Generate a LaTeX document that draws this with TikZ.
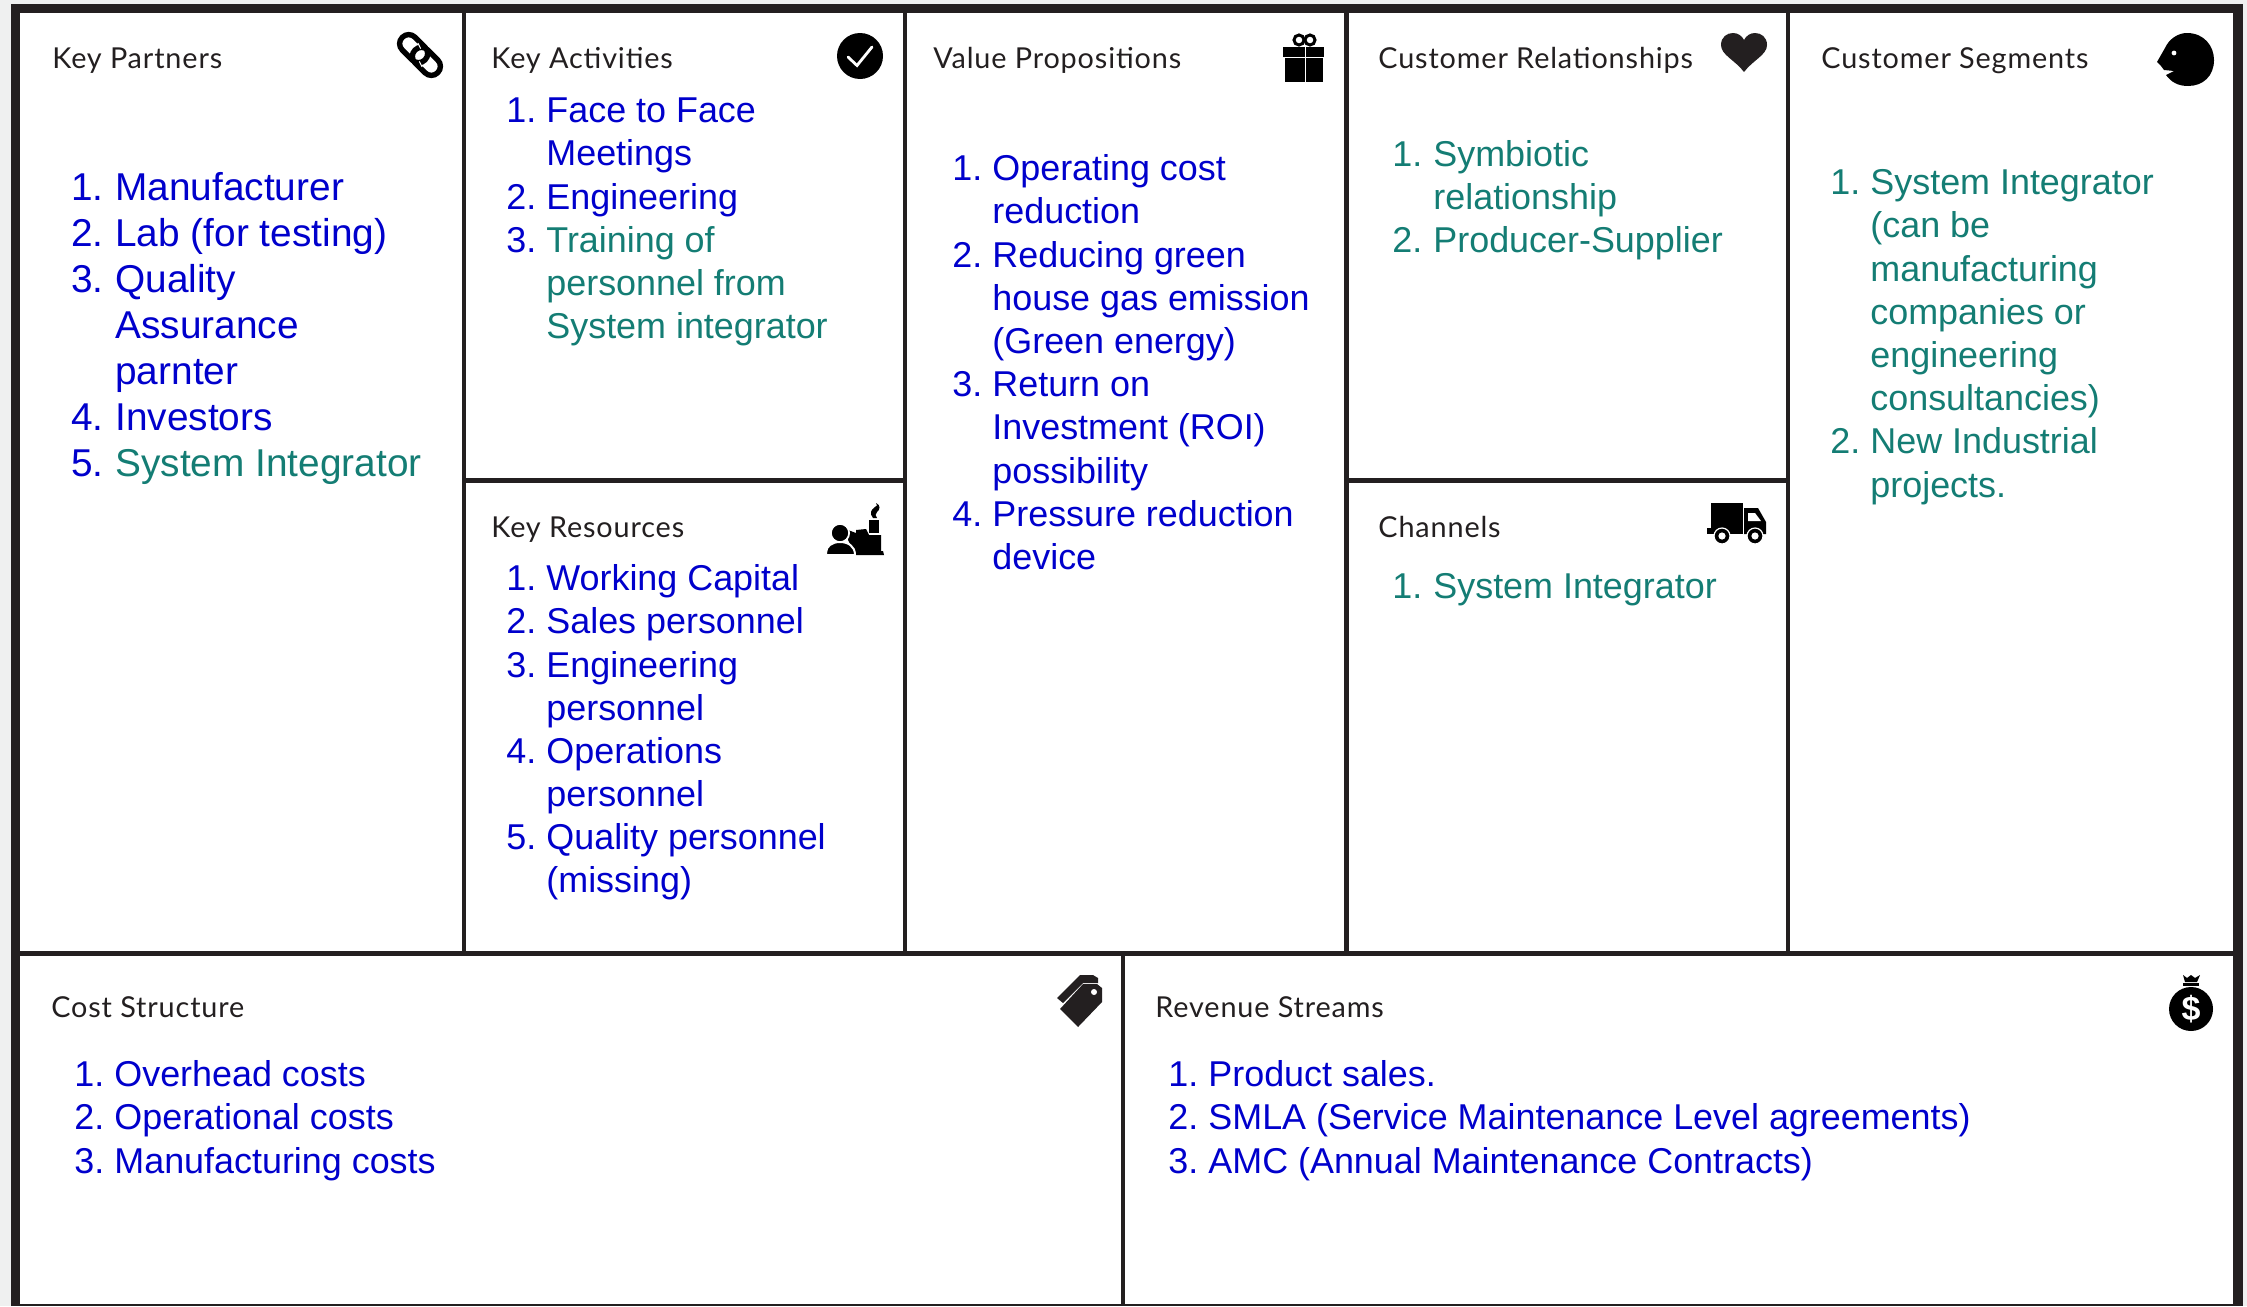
\documentclass[tikz,border=0pt]{standalone}
\usepackage{fontspec}
\setmainfont{Liberation Sans}
\newfontfamily\titlefont{Lato}[LetterSpace=3]
\definecolor{frameK}{HTML}{231F20}
\definecolor{blueT}{HTML}{0000CC}
\definecolor{greenT}{HTML}{147D74}
\definecolor{pageG}{HTML}{EFF0F0}
\tikzset{
  x=0.5pt,y=-0.5pt,
  rule/.style={fill=frameK,draw=none},
  ttl/.style={anchor=base west,inner sep=0,font=\titlefont\fontsize{14.4}{14.4}\selectfont,text=frameK},
  itm/.style={anchor=base west,inner sep=0,font=\fontsize{17.95}{17.95}\selectfont},
  itmb/.style={anchor=base west,inner sep=0,font=\fontsize{19.4}{19.4}\selectfont},
  blu/.style={text=blueT},
  grn/.style={text=greenT},
  ico/.style={fill=black,draw=none},
}
\begin{document}
\begin{tikzpicture}
\useasboundingbox (0,0) rectangle (2247,1306);
\fill[pageG] (0,0) rectangle (2247,1306);
\fill[white] (20,13) rectangle (2234,1306);
% frame
\fill[rule] (11,4) rectangle (2243,13);
\fill[rule] (11,4) rectangle (20,1306);
\fill[rule] (2233,4) rectangle (2243,1306);
\fill[rule] (462,13) rectangle (466,951);
\fill[rule] (903,13) rectangle (907,951);
\fill[rule] (1344,13) rectangle (1349,951);
\fill[rule] (1786,13) rectangle (1790,951);
\fill[rule] (466,478) rectangle (903,483);
\fill[rule] (1349,478) rectangle (1786,483);
\fill[rule] (20,951) rectangle (2233,956);
\fill[rule] (1121,956) rectangle (1125,1306);
\fill[rule] (20,1304) rectangle (2233,1306);
% titles
\node[ttl] (t1) at (52,68) {Key Partners};
\node[ttl] (t2) at (491,68) {Key Activities};
\node[ttl] (t3) at (933,68) {Value Propositions};
\node[ttl] (t4) at (1378,68) {Customer Relationships};
\node[ttl] (t5) at (1821,68) {Customer Segments};
\node[ttl] (t6) at (491,537) {Key Resources};
\node[ttl] (t7) at (1378,537) {Channels};
\node[ttl] (t8) at (51,1017) {Cost Structure};
\node[ttl] (t9) at (1155,1017) {Revenue Streams};
% Key partners
\node[itmb,blu] (kn1) at (71,200) {1.};
\node[itmb,blu] (kn2) at (71,246) {2.};
\node[itmb,blu] (kn3) at (71,292) {3.};
\node[itmb,blu] (kn4) at (71,430) {4.};
\node[itmb,blu] (kn5) at (71,476) {5.};
\node[itmb,blu] (kpa) at (115,200) {Manufacturer};
\node[itmb,blu] (kpb) at (115,246) {Lab (for testing)};
\node[itmb,blu] (kpc) at (115,292) {Quality};
\node[itmb,blu] (kpd) at (115,338) {Assurance};
\node[itmb,blu] (kpe) at (115,384) {parnter};
\node[itmb,blu] (kpf) at (115,430) {Investors};
\node[itmb,grn] (kpg) at (115,476) {System Integrator};
% Key activities
\node[itm,blu] (a1) at (506,122) {1.};
\node[itm,blu] (a1a) at (546,122) {Face to Face};
\node[itm,blu] (a1b) at (546,165) {Meetings};
\node[itm,blu] (a2) at (506,209) {2.};
\node[itm,blu] (a2a) at (546,209) {Engineering};
\node[itm,blu] (a3) at (506,252) {3.};
\node[itm,grn] (a3a) at (546,252) {Training of};
\node[itm,grn] (a3b) at (546,295) {personnel from};
\node[itm,grn] (a3c) at (546,338) {System integrator};
% Key resources
\node[itm,blu] (r1) at (506,590) {1.};
\node[itm,blu] (r1a) at (546,590) {Working Capital};
\node[itm,blu] (r2) at (506,633) {2.};
\node[itm,blu] (r2a) at (546,633) {Sales personnel};
\node[itm,blu] (r3) at (506,677) {3.};
\node[itm,blu] (r3a) at (546,677) {Engineering};
\node[itm,blu] (r3b) at (546,720) {personnel};
\node[itm,blu] (r4) at (506,763) {4.};
\node[itm,blu] (r4a) at (546,763) {Operations};
\node[itm,blu] (r4b) at (546,806) {personnel};
\node[itm,blu] (r5) at (506,849) {5.};
\node[itm,blu] (r5a) at (546,849) {Quality personnel};
\node[itm,blu] (r5b) at (546,892) {(missing)};
% Value propositions
\node[itm,blu] (v1) at (952,180) {1.};
\node[itm,blu] (v1a) at (992,180) {Operating cost};
\node[itm,blu] (v1b) at (992,223) {reduction};
\node[itm,blu] (v2) at (952,267) {2.};
\node[itm,blu] (v2a) at (992,267) {Reducing green};
\node[itm,blu] (v2b) at (992,310) {house gas emission};
\node[itm,blu] (v2c) at (992,353) {(Green energy)};
\node[itm,blu] (v3) at (952,396) {3.};
\node[itm,blu] (v3a) at (992,396) {Return on};
\node[itm,blu] (v3b) at (992,439) {Investment (ROI)};
\node[itm,blu] (v3c) at (992,483) {possibility};
\node[itm,blu] (v4) at (952,526) {4.};
\node[itm,blu] (v4a) at (992,526) {Pressure reduction};
\node[itm,blu] (v4b) at (992,569) {device};
% Customer relationships
\node[itm,grn] (c1) at (1392,166) {1.};
\node[itm,grn] (c1a) at (1433,166) {Symbiotic};
\node[itm,grn] (c1b) at (1433,209) {relationship};
\node[itm,grn] (c2) at (1392,252) {2.};
\node[itm,grn] (c2a) at (1433,252) {Producer-Supplier};
% Channels
\node[itm,grn] (h1) at (1392,598) {1.};
\node[itm,grn] (h1a) at (1433,598) {System Integrator};
% Customer segments
\node[itm,grn] (s1) at (1830,194) {1.};
\node[itm,grn] (s1a) at (1870,194) {System Integrator};
\node[itm,grn] (s1b) at (1870,237) {(can be};
\node[itm,grn] (s1c) at (1870,281) {manufacturing};
\node[itm,grn] (s1d) at (1870,324) {companies or};
\node[itm,grn] (s1e) at (1870,367) {engineering};
\node[itm,grn] (s1f) at (1870,410) {consultancies)};
\node[itm,grn] (s2) at (1830,453) {2.};
\node[itm,grn] (s2a) at (1870,453) {New Industrial};
\node[itm,grn] (s2b) at (1870,497) {projects.};
% Cost
\node[itm,blu] (k1) at (74,1086) {1.};
\node[itm,blu] (k1a) at (114,1086) {Overhead costs};
\node[itm,blu] (k2) at (74,1129) {2.};
\node[itm,blu] (k2a) at (114,1129) {Operational costs};
\node[itm,blu] (k3) at (74,1173) {3.};
\node[itm,blu] (k3a) at (114,1173) {Manufacturing costs};
% Revenue
\node[itm,blu] (e1) at (1168,1086) {1.};
\node[itm,blu] (e1a) at (1208,1086) {Product sales.};
\node[itm,blu] (e2) at (1168,1129) {2.};
\node[itm,blu] (e2a) at (1208,1129) {SMLA (Service Maintenance Level agreements)};
\node[itm,blu] (e3) at (1168,1173) {3.};
\node[itm,blu] (e3a) at (1208,1173) {AMC (Annual Maintenance Contracts)};
% ICON link
\begin{scope}[shift={(420,55)},rotate=-45]
\draw[black,line width=2.7pt,rounded corners=4.4pt] (-25,-9) rectangle (7,9);
\draw[black,line width=2.7pt,rounded corners=4.4pt] (-7,-9) rectangle (25,9);
\draw[white,line width=0.5pt] (-10,-7) -- (-4,-5);
\draw[white,line width=0.5pt] (4,5) -- (10,7);
\end{scope}
% ICON check
\fill[black] (860,56) circle (23);
\draw[white,line width=1.4pt,line cap=round] (848,57) -- (857,65.5) -- (872,47);
% ICON gift
\fill[ico] (1283,47) rectangle (1324,57);
\fill[ico] (1285,58) rectangle (1323,82);
\fill[white] (1304.5,47) rectangle (1305.5,82);
\draw[black,line width=1.5pt] (1299,40) ellipse (5 and 5);
\draw[black,line width=1.5pt] (1310,40) ellipse (5 and 5);
% ICON heart
\fill[frameK] (1744,72) .. controls (1735,60) and (1721,55) .. (1721,45) .. controls (1721,37) and (1727,33) .. (1733,33) .. controls (1738,33) and (1742,36) .. (1744,40) .. controls (1746,36) and (1750,33) .. (1755,33) .. controls (1761,33) and (1767,37) .. (1767,45) .. controls (1767,55) and (1753,60) .. (1744,72) -- cycle;
% ICON head
\fill[black] (2157,62) -- (2165,48) .. controls (2169,39) and (2178,33) .. (2187,33) .. controls (2204,33) and (2214,46) .. (2214,60) .. controls (2214,76) and (2203,86) .. (2188,86) .. controls (2178,86) and (2171,82) .. (2166,75) -- (2174,71) -- (2164,70) -- (2161,66) -- cycle;
\fill[white] (2174,53) circle (2.4);
% ICON factory
\fill[ico] (869,520) rectangle (879,533);
\fill[black] (856,555) -- (848,540) -- (848,530) -- (856,533) -- (856,530) -- (866,529) -- (869,535) -- (881,535) -- (881,551) -- (883,551) -- (884,555) -- cycle;
\fill[black] (873,518) .. controls (869,513) and (871,510) .. (875,507) .. controls (877,506) and (878,505) .. (876,503) .. controls (881,505) and (880,510) .. (877,512) .. controls (875,514) and (875,516) .. (877,518) -- cycle;
\draw[white,line width=1pt,fill=black] (840,533) circle (9);
\fill[black] (840,533) circle (8);
\draw[white,line width=1pt,fill=black] (826,555) -- (826,553) .. controls (826,546) and (832,542) .. (840,542) .. controls (848,542) and (855,546) .. (855,555) -- cycle;
% ICON truck
\fill[ico] (1711,503) rectangle (1743,534);
\fill[ico] (1707,528) rectangle (1711,534);
\fill[ico] (1744,508) -- (1758,508) -- (1766,522) -- (1766,534) -- (1744,534) -- cycle;
\fill[white] (1748,513) -- (1755,513) -- (1761,521) -- (1748,521) -- cycle;
\draw[white,line width=0.6pt,fill=black] (1722,536) circle (8);
\fill[white] (1722,536) circle (3.6);
\draw[white,line width=0.6pt,fill=black] (1755,536) circle (8);
\fill[white] (1755,536) circle (3.6);
% ICON tags
\fill[frameK] (1057,998) -- (1080,975) -- (1093,975) -- (1098,978) -- (1098,983) -- (1083,983) -- (1063,1003) -- cycle;
\fill[frameK] (1060,1009) -- (1083,984) -- (1097,984) -- (1102,988) -- (1102,1002) -- (1078,1027) -- cycle;
\fill[white] (1094,992) circle (3);
% ICON money
\fill[black] (2191,1009) circle (22);
\fill[black] (2183,975) -- (2187,978) -- (2191,975) -- (2195,978) -- (2200,975) -- (2197,982) -- (2185,982) -- cycle;
\fill[black] (2183,983) rectangle (2199,986);
\node[anchor=center,inner sep=0,text=white,font=\fontsize{17}{17}\bfseries\selectfont] (ms) at (2191,1009) {\$};
\end{tikzpicture}
\end{document}
